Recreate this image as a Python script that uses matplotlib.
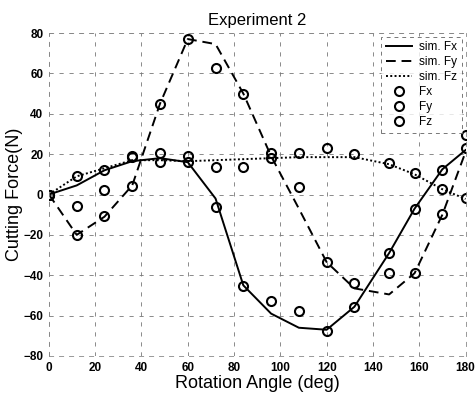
import matplotlib
matplotlib.use("Agg")
import matplotlib.pyplot as plt

plt.rcParams['font.family'] = ['Liberation Sans', 'DejaVu Sans']

# simulated curves
angle = [0, 12, 24, 36, 48, 60, 72, 84, 96, 108, 120, 132, 147, 158, 170, 180]
sim_fx = [0, 4.5, 12, 16.5, 18, 16, -2, -45, -59, -66, -67, -55.6, -29, -7, 12.5, 22]
sim_fy = [0, -20, -11, 4.5, 45, 77, 74.5, 50, 19, -7, -33.5, -46.5, -49.5, -39, -10, 21]
sim_fz = [0, 9, 13, 17, 17, 16.5, 17, 17.5, 18, 18.5, 18.5, 18.5, 15, 10, 2.6, -2.2]

# measured points
fx = [0, -5.7, 12, 18.5, 20.7, 16, -6, -45.5, -53, -57.7, -67.6, -55.6, -29, -7.2, 12, 22.9]
fy = [0, -20, -10.5, 4.4, 45, 77, 62.5, 50, 18, 3.5, -33.6, -43.7, -39, -39, -9.7, 29.5]
fz = [0, 9, 2, 19, 16.3, 19, 13.8, 13.8, 20.4, 20.4, 23.2, 20, 15.4, 10.5, 2.6, -1.9]

xticks = [0, 20, 40, 60, 80, 100, 120, 140, 160, 180]
yticks = [-80, -60, -40, -20, 0, 20, 40, 60, 80]

fig = plt.figure(figsize=(4.75, 4.0), dpi=100)
ax = fig.add_axes([0.103, 0.11, 0.877, 0.8075])

lw = 1.4
ax.plot(angle, sim_fx, color='black', lw=lw, ls='-', label='sim. Fx')
ax.plot(angle, sim_fy, color='black', lw=lw, ls=(0, (5, 3)), label='sim. Fy')
ax.plot(angle, sim_fz, color='black', lw=lw, ls=(0, (1, 1.2)), label='sim. Fz')
mk = dict(ls='none', marker='o', ms=6.5, mfc='none', mec='black', mew=1.5)
ax.plot(angle, fx, label='Fx', **mk)
ax.plot(angle, fy, label='Fy', **mk)
ax.plot(angle, fz, label='Fz', **mk)

ax.set_xlim(0, 180)
ax.set_ylim(-80, 80)
ax.set_xticks(xticks)
ax.set_yticks(yticks)
ax.tick_params(length=0, labelsize=8.5, pad=4)
for lab in ax.get_xticklabels() + ax.get_yticklabels():
    lab.set_fontweight('bold')

ax.grid(True, color='#777777', lw=0.6, ls=(0, (5, 7)))
for s in ax.spines.values():
    s.set_color('#888888')
    s.set_linewidth(0.6)
    s.set_linestyle((0, (5, 7)))

ax.set_title('Experiment 2', fontsize=12, pad=6)
ax.set_xlabel('Rotation Angle (deg)', fontsize=13, labelpad=1)
ax.set_ylabel('Cutting Force(N)', fontsize=13, labelpad=0)

leg = ax.legend(loc='upper right', fontsize=8.5, frameon=True, fancybox=False,
                borderaxespad=0.3, handlelength=2.2, labelspacing=0.25,
                borderpad=0.4, handletextpad=0.6)
leg.get_frame().set_edgecolor('#555555')
leg.get_frame().set_linewidth(0.7)
leg.get_frame().set_linestyle((0, (4, 4)))

fig.savefig('out.png', dpi=100)
